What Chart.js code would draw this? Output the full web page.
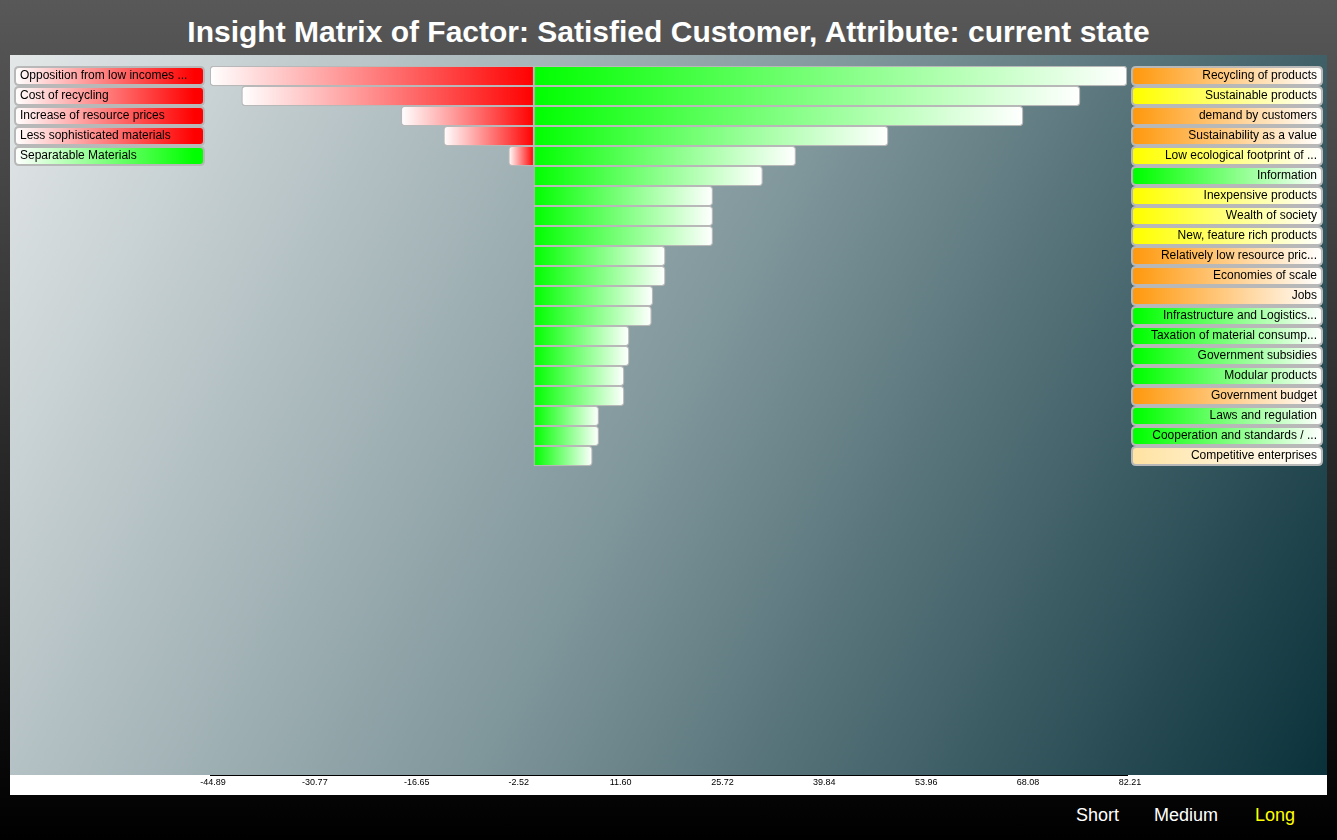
<!DOCTYPE html>
<html>
<head>
<meta charset="utf-8">
<title>Insight Matrix</title>
<script src="https://cdn.jsdelivr.net/npm/chart.js@4.4.1/dist/chart.umd.min.js"></script>
<style>
    html, body {
        margin: 0;
        padding: 0;
        width: 1337px;
        height: 840px;
        overflow: hidden;
        font-family: "Liberation Sans", Arial, Helvetica, sans-serif;
        background: linear-gradient(to bottom, #585858 0%, #000000 100%);
    }
    h1 {
        position: absolute;
        top: 15px;
        left: 0;
        width: 1337px;
        margin: 0;
        text-align: center;
        color: #fff;
        font-size: 30px;
        line-height: 34px;
        font-weight: bold;
    }
    #chartWrap {
        position: absolute;
        left: 10px;
        top: 55px;
        width: 1317px;
        height: 740px;
    }
    .range {
        position: absolute;
        top: 805px;
        font-size: 18px;
        color: #fff;
    }
    .range.active { color: #ffff00; }
</style>
</head>
<body>
<h1>Insight Matrix of Factor: Satisfied Customer, Attribute: current state</h1>
<div id="chartWrap"><canvas id="matrixChart" width="1317" height="740"></canvas></div>
<div class="range" style="left:1076px">Short</div>
<div class="range" style="left:1154px">Medium</div>
<div class="range active" style="left:1255px">Long</div>

<script>
// Factors with negative influence (left side)
const leftLabels = [
    'Opposition from low incomes ...',
    'Cost of recycling',
    'Increase of resource prices',
    'Less sophisticated materials',
    'Separatable Materials',
];
const leftValues = [-44.89, -40.5, -18.4, -12.5, -3.5];

// Factors with positive influence (right side)
const rightLabels = [
    'Recycling of products',
    'Sustainable products',
    'demand by customers',
    'Sustainability as a value',
    'Low ecological footprint of ...',
    'Information',
    'Inexpensive products',
    'Wealth of society',
    'New, feature rich products',
    'Relatively low resource pric...',
    'Economies of scale',
    'Jobs',
    'Infrastructure and Logistics...',
    'Taxation of material consump...',
    'Government subsidies',
    'Modular products',
    'Government budget',
    'Laws and regulation',
    'Cooperation and standards / ...',
    'Competitive enterprises',
];
const rightValues = [82.21, 75.7, 67.8, 49.1, 36.3, 31.7, 24.8, 24.8, 24.8, 18.2, 18.2, 16.5, 16.3, 13.2, 13.2, 12.5, 12.5, 9.0, 9.0, 8.1];

const tickValues = [-44.89, -30.77, -16.65, -2.52, 11.60, 25.72, 39.84, 53.96, 68.08, 82.21];

// Label box colours
const leftColors = ['#ff0000', '#ff0000', '#ff0000', '#ff0000', '#00ff00'];
const rightColors = ['#ff9a10', '#ffff00', '#ff9a10', '#ff9a10', '#ffff00', '#00ff00', '#ffff00', '#ffff00', '#ffff00',
    '#ff9a10', '#ff9a10', '#ff9a10', '#00ff00', '#00ff00', '#00ff00', '#00ff00', '#ff9a10', '#00ff00', '#00ff00', '#ffe3a3'];

// Bar gradient from the zero line out to the bar end
function barGradient(ctx, base, tip) {
    const chart = ctx.chart;
    if (!chart.chartArea || ctx.type !== 'data' || !ctx.raw) return base;
    const xs = chart.scales.x;
    const x0 = xs.getPixelForValue(0);
    const x1 = xs.getPixelForValue(ctx.raw.x);
    if (Math.abs(x1 - x0) < 1) return base;
    const g = chart.ctx.createLinearGradient(x0, 0, x1, 0);
    g.addColorStop(0, base);
    g.addColorStop(1, tip);
    return g;
}

function roundRect(c, x, y, w, h, r) {
    c.beginPath();
    c.moveTo(x + r, y);
    c.lineTo(x + w - r, y);
    c.quadraticCurveTo(x + w, y, x + w, y + r);
    c.lineTo(x + w, y + h - r);
    c.quadraticCurveTo(x + w, y + h, x + w - r, y + h);
    c.lineTo(x + r, y + h);
    c.quadraticCurveTo(x, y + h, x, y + h - r);
    c.lineTo(x, y + r);
    c.quadraticCurveTo(x, y, x + r, y);
    c.closePath();
}

// Panel background and white axis strip
const backgroundPlugin = {
    id: 'panelBackground',
    beforeDraw(chart) {
        const { ctx, chartArea } = chart;
        const w = chart.width;
        const bottom = chartArea.bottom;
        ctx.save();
        const g = ctx.createLinearGradient(0, 0, w, bottom);
        g.addColorStop(0, '#e3e7e8');
        g.addColorStop(0.5, '#7f969b');
        g.addColorStop(1, '#0a313a');
        ctx.fillStyle = g;
        ctx.fillRect(0, 0, w, bottom);
        ctx.fillStyle = '#ffffff';
        ctx.fillRect(0, bottom, w, chart.height - bottom);
        ctx.restore();
    }
};

// Factor name boxes on both sides
const labelBoxPlugin = {
    id: 'labelBoxes',
    afterDatasetsDraw(chart) {
        const ctx = chart.ctx;
        const ys = chart.scales.y;
        const rowH = Math.abs(ys.getPixelForValue(1) - ys.getPixelForValue(0));
        const h = rowH - 2;

        function box(x, w, i, text, color, side) {
            const yc = ys.getPixelForValue(i);
            const y = yc - h / 2;
            const g = ctx.createLinearGradient(x, 0, x + w, 0);
            if (side === 'left') {
                g.addColorStop(0, '#ffffff');
                g.addColorStop(0.95, color);
            } else {
                g.addColorStop(0.02, color);
                g.addColorStop(1, '#ffffff');
            }
            roundRect(ctx, x, y, w, h, 4);
            ctx.fillStyle = g;
            ctx.fill();
            ctx.lineWidth = 2;
            ctx.strokeStyle = '#b8b8b8';
            ctx.stroke();
            ctx.fillStyle = '#000';
            ctx.font = '12px "Liberation Sans", Arial, sans-serif';
            ctx.textBaseline = 'middle';
            if (side === 'left') {
                ctx.textAlign = 'left';
                ctx.fillText(text, x + 5, yc);
            } else {
                ctx.textAlign = 'right';
                ctx.fillText(text, x + w - 5, yc);
            }
        }

        ctx.save();
        leftLabels.forEach((t, i) => box(5, 189, i, t, leftColors[i], 'left'));
        rightLabels.forEach((t, i) => box(1122, 190, i, t, rightColors[i], 'right'));
        ctx.restore();
    }
};

function initChart() {
    const ctx = document.getElementById('matrixChart')?.getContext('2d');
    if (!ctx) return;

    const rowPx = 20;
    const plotTop = 11;
    const plotBottom = 720;

    new Chart(ctx, {
        type: 'bar',
        data: {
            datasets: [{
                label: 'negative',
                data: leftValues.map((v, i) => ({ x: v, y: i })),
                backgroundColor: c => barGradient(c, '#ff0000', '#ffffff'),
                borderColor: '#b8b8b8',
                borderWidth: 1.3,
                borderSkipped: false,
                borderRadius: { topLeft: 4, bottomLeft: 4, topRight: 0, bottomRight: 0 },
                barPercentage: 1,
                categoryPercentage: 1,
            }, {
                label: 'positive',
                data: rightValues.map((v, i) => ({ x: v, y: i })),
                backgroundColor: c => barGradient(c, '#00ff00', '#ffffff'),
                borderColor: '#b8b8b8',
                borderWidth: 1.3,
                borderSkipped: false,
                borderRadius: { topLeft: 0, bottomLeft: 0, topRight: 4, bottomRight: 4 },
                barPercentage: 1,
                categoryPercentage: 1,
            }]
        },
        options: {
            indexAxis: 'y',
            responsive: false,
            animation: false,
            layout: { padding: { left: 200, right: 200, top: plotTop, bottom: 0 } },
            plugins: {
                legend: { display: false },
                tooltip: { enabled: false }
            },
            scales: {
                x: {
                    type: 'linear',
                    stacked: true,
                    min: tickValues[0],
                    max: tickValues[tickValues.length - 1],
                    afterBuildTicks: scale => {
                        scale.ticks = tickValues.map(v => ({ value: v }));
                    },
                    afterFit: scale => { scale.height = 740 - plotBottom; },
                    grid: { display: false, drawTicks: false },
                    border: { display: true, color: '#000', width: 1 },
                    ticks: {
                        padding: 2,
                        labelOffset: 3,
                        maxRotation: 0,
                        autoSkip: false,
                        color: '#000',
                        font: { size: 9, family: '"Liberation Sans", Arial, sans-serif' },
                        callback: v => Number(v).toFixed(2)
                    }
                },
                y: {
                    type: 'linear',
                    stacked: true,
                    display: false,
                    offset: false,
                    grid: { offset: false },
                    reverse: true,
                    min: -0.5,
                    max: -0.5 + (plotBottom - plotTop) / rowPx
                }
            }
        },
        plugins: [backgroundPlugin, labelBoxPlugin]
    });
}

document.addEventListener('DOMContentLoaded', initChart);
</script>
</body>
</html>
